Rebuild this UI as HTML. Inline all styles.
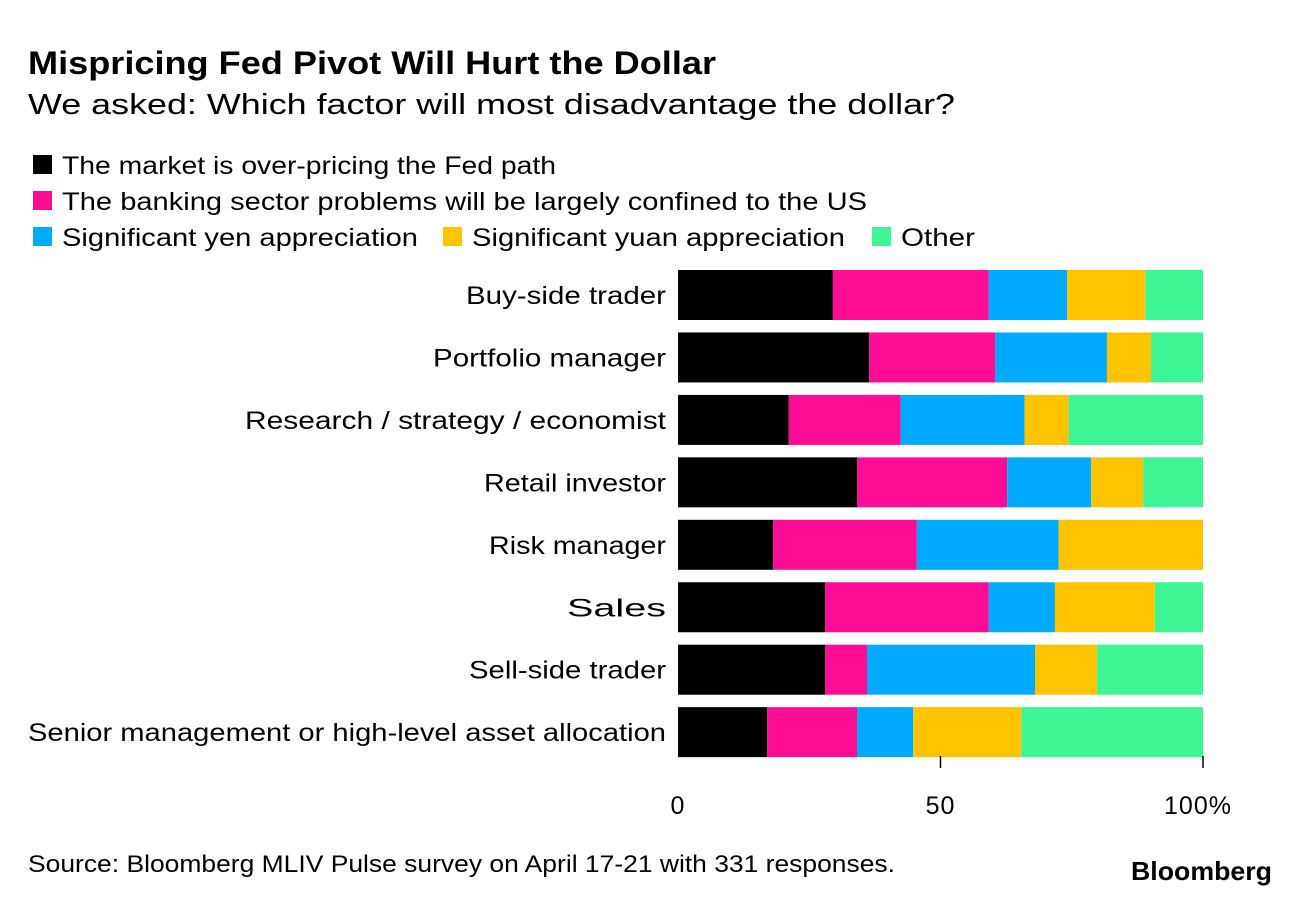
<!DOCTYPE html>
<html><head><meta charset="utf-8">
<style>
body{margin:0;background:#fff;width:1296px;height:904px;overflow:hidden;font-family:"Liberation Sans",sans-serif;}
svg text{font-family:"Liberation Sans",sans-serif;}
</style></head><body>
<svg width="1296" height="904">
<text x="28" y="74" font-size="32" font-weight="bold" textLength="688" lengthAdjust="spacingAndGlyphs">Mispricing Fed Pivot Will Hurt the Dollar</text>
<text x="28" y="114" font-size="29" textLength="927" lengthAdjust="spacingAndGlyphs">We asked: Which factor will most disadvantage the dollar?</text>
<g id="legend"></g>
<g id="bars"></g>
<g id="axis"></g>
<text x="28" y="872" font-size="24" textLength="867" lengthAdjust="spacingAndGlyphs">Source: Bloomberg MLIV Pulse survey on April 17-21 with 331 responses.</text>
<text x="1131" y="880" font-size="26" font-weight="bold" textLength="141" lengthAdjust="spacingAndGlyphs">Bloomberg</text>
</svg>
<script>
const categories=["Buy-side trader","Portfolio manager","Research / strategy / economist","Retail investor","Risk manager","Sales","Sell-side trader","Senior management or high-level asset allocation"];
const seriesNames=["The market is over-pricing the Fed path","The banking sector problems will be largely confined to the US","Significant yen appreciation","Significant yuan appreciation","Other"];
const overpricing=[29.5,36.4,21.1,34.1,18.1,28,28,17];
const banking=[29.7,24,21.3,28.6,27.4,31.2,8,17.1];
const yen=[14.9,21.3,23.6,16,27,12.6,32,10.7];
const yuan=[14.9,8.4,8.4,9.9,27.5,19,11.8,20.6];
const other=[11,9.9,25.6,11.4,0,9.2,20.2,34.6];
const ticks=[0,50,100];
const tickLabels=["0","50","100%"];
const colors=["#000000","#fc0d93","#00aaff","#ffc300","#3df595"];
const labelW=[200,233,421,182,177,99,197,638];
const legendW=[494,805,356,373,74];
const NS="http://www.w3.org/2000/svg";
const x0=678,x1=1203;
const xs=v=>x0+(x1-x0)*v/100;
const rowY=i=>270+i*62.45;
const bh=50;
function mk(t,a,p){const e=document.createElementNS(NS,t);for(const k in a)e.setAttribute(k,a[k]);p.appendChild(e);return e;}
const leg=document.getElementById('legend');
const lp=[[33,173],[33,209],[33,245],[443,245],[872,245]];
seriesNames.forEach((n,i)=>{
 const r=mk('rect',{x:lp[i][0],y:lp[i][1]-18,width:19,height:19,fill:colors[i]},leg);
 
 
 const t=mk('text',{x:lp[i][0]+29,y:lp[i][1]+1,'font-size':25,textLength:legendW[i],lengthAdjust:'spacingAndGlyphs'},leg);t.textContent=n;
 
 
});
const bars=document.getElementById('bars');
const series=[overpricing,banking,yen,yuan,other];
categories.forEach((c,i)=>{
 const y=rowY(i);
 const t=mk('text',{x:666-labelW[i],y:y+bh/2+9,'font-size':25,textLength:labelW[i],lengthAdjust:'spacingAndGlyphs'},bars);t.textContent=c;
 
 
 let acc=0;
 series.forEach((s,j)=>{
  const v=s[i];
  const r=mk('rect',{x:xs(acc),y:y,width:Math.max(0,xs(acc+v)-xs(acc)),height:bh,fill:colors[j]},bars);
  
  
  acc+=v;
 });
});
const ax=document.getElementById('axis');
ticks.forEach((v,i)=>{
 if(v>0){const l=mk('line',{x1:xs(v),x2:xs(v),y1:756,y2:768,stroke:'#000','stroke-width':1.5},ax);
 
 }
 const t=mk('text',{x:xs(v)+(i==2?-5:0),y:814,'font-size':25,'text-anchor':'middle','letter-spacing':'1'},ax);t.textContent=tickLabels[i];
 
 
});
</script>
</body></html>
